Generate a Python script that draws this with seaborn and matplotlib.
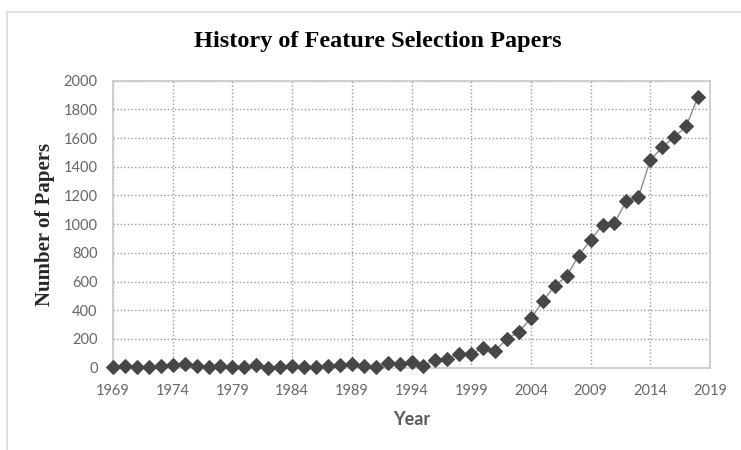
import numpy as np
import pandas as pd
import seaborn as sns
import matplotlib.pyplot as plt
from matplotlib.patches import Rectangle

years = list(range(1969, 2019))
papers = [2, 12, 7, 7, 12, 16, 23, 14, 7, 12,
          5, 7, 16, 0, 7, 12, 5, 2, 12, 19,
          23, 14, 2, 30, 25, 42, 15, 54, 61, 93,
          95, 140, 119, 200, 251, 344, 462, 572, 637, 781,
          890, 994, 1008, 1164, 1187, 1447, 1536, 1607, 1681, 1888]
xticks = list(range(1969, 2020, 5))
yticks = list(range(0, 2001, 200))

df = pd.DataFrame({"Year": years, "Papers": papers})

sns.set_style("white")
plt.rcParams['font.family'] = ['Lato', 'DejaVu Sans']

fig = plt.figure(figsize=(7.41, 4.5), dpi=100)
ax = fig.add_axes([113/741, 1 - 367.7/450, (710-113)/741, (367.7-80.7)/450])

# outer chart frame
fig.patches.append(Rectangle((7/741, -0.1), 1.2, 1 - 12/450 + 0.1, transform=fig.transFigure,
                             fill=False, edgecolor="#d9d9d9", linewidth=1.2))

sns.lineplot(data=df, x="Year", y="Papers", ax=ax, color="#8c8c8c", linewidth=1,
             marker="D", markersize=7.5, markerfacecolor="#474747",
             markeredgecolor="#474747", clip_on=False, zorder=3)

ax.set_xlim(1969, 2019)
ax.set_ylim(0, 2000)
ax.set_xticks(xticks)
ax.set_yticks(yticks)
ax.grid(True, linestyle=(0, (1, 1.6)), color="#9a9a9a", linewidth=1)
ax.tick_params(length=0, labelsize=10.5, labelcolor="#666666")
ax.tick_params(axis="y", pad=11)
ax.tick_params(axis="x", pad=12)
for s in ax.spines.values():
    s.set_color("#c8c8c8")
    s.set_linewidth(1.2)

ax.set_xlabel("Year", fontsize=13, fontweight="bold", color="#595959", labelpad=9)
ax.set_ylabel("Number of Papers", fontsize=15, fontweight="bold", color="#262626",
              family="Liberation Serif", labelpad=6)
fig.text(378/741, 1 - 42/450, "History of Feature Selection Papers", ha="center", va="center",
         fontsize=17.5, fontweight="bold", family="Liberation Serif", color="#000000")

fig.savefig("out.png", dpi=100)
